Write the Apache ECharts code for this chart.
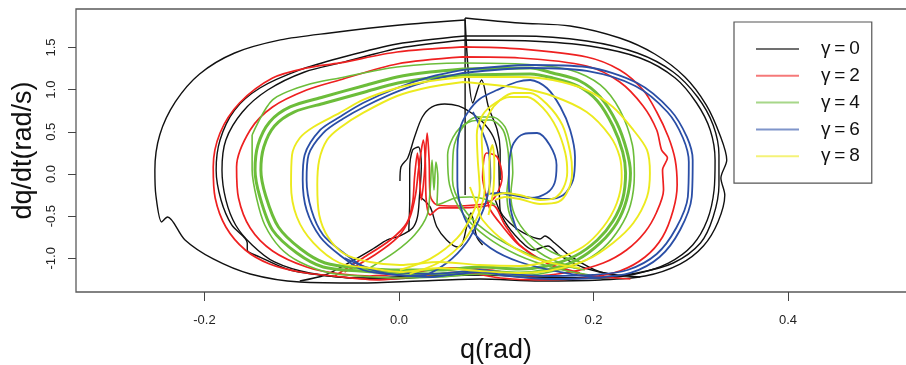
<!DOCTYPE html>
<html><head><meta charset="utf-8">
<script src="https://cdn.jsdelivr.net/npm/echarts@6/dist/echarts.min.js"></script>
<style>html,body{margin:0;padding:0;background:#fff}#c{width:906px;height:365px}</style>
</head><body><div id="c"></div>
<script>
// ---- axis ticks ----
const xTicks = [-0.2, 0.0, 0.2, 0.4];
const yTicks = [-1.0, -0.5, 0.0, 0.5, 1.0, 1.5];
const legendNames = ['γ\u2009=\u20090', 'γ\u2009=\u20092', 'γ\u2009=\u20094', 'γ\u2009=\u20096', 'γ\u2009=\u20098'];

// ---- gamma = 0 (black) trajectory pieces [q, dq/dt] ----
const g0Start = [[0.068,-0.249],[0.068,1.851]];
const g0Loop1 = [[0.068,1.851],[0.124,1.791],[0.176,1.756],[0.227,1.613],[0.263,1.423],[0.294,1.151],[0.316,0.818],[0.330,0.463],[0.337,0.166],[0.331,-0.047],[0.335,-0.249],[0.328,-0.569],[0.313,-0.854],[0.289,-1.068],[0.253,-1.210],[0.207,-1.257],[0.145,-1.269],[0.083,-1.246],[0.022,-1.269],[-0.040,-1.293],[-0.102,-1.281],[-0.153,-1.186],[-0.191,-1.008],[-0.220,-0.783],[-0.238,-0.510],[-0.244,-0.569],[-0.250,-0.249],[-0.251,0.047],[-0.246,0.463],[-0.230,0.854],[-0.205,1.186],[-0.169,1.435],[-0.122,1.590],[-0.071,1.673],[0.001,1.767],[0.068,1.827]];
const g0Loop2 = [[0.068,1.637],[0.124,1.637],[0.193,1.578],[0.245,1.435],[0.282,1.210],[0.307,0.913],[0.323,0.581],[0.329,0.225],[0.329,-0.130],[0.323,-0.510],[0.310,-0.818],[0.282,-1.056],[0.245,-1.174],[0.207,-1.222],[0.145,-1.234],[0.094,-1.198],[0.042,-1.210],[-0.009,-1.246],[-0.061,-1.222],[-0.112,-1.139],[-0.143,-0.985],[-0.156,-0.902],[-0.156,-0.818],[-0.172,-0.605],[-0.183,-0.308],[-0.188,0.047],[-0.184,0.403],[-0.169,0.759],[-0.143,1.020],[-0.102,1.234],[-0.061,1.376],[-0.002,1.542],[0.068,1.637]];
const g0Loop3 = [[0.068,1.590],[0.135,1.578],[0.196,1.518],[0.248,1.376],[0.284,1.139],[0.306,0.842],[0.320,0.522],[0.325,0.166],[0.324,-0.190],[0.317,-0.546],[0.302,-0.842],[0.277,-1.056],[0.243,-1.186],[0.207,-1.234],[0.145,-1.222],[0.083,-1.186],[0.022,-1.210],[-0.040,-1.234],[-0.092,-1.174],[-0.128,-1.044],[-0.151,-0.842],[-0.168,-0.605],[-0.178,-0.308],[-0.182,0.047],[-0.178,0.403],[-0.161,0.735],[-0.135,0.996],[-0.097,1.210],[-0.056,1.329],[0.001,1.495],[0.068,1.590]];
const g0Spike = [[0.068,1.827],[0.076,0.842],[0.085,1.115],[0.092,0.795],[0.101,0.522],[0.104,0.285],[0.104,-0.071]];
const g0Arch = [[0.001,-0.083],[0.002,0.083],[0.009,0.190],[0.016,0.439],[0.024,0.676],[0.034,0.795],[0.047,0.830],[0.061,0.807],[0.073,0.735],[0.086,0.617],[0.097,0.439],[0.102,0.225],[0.103,-0.071],[0.104,-0.427],[0.114,-0.581],[0.128,-0.700],[0.145,-0.771],[0.150,-0.735],[0.160,-0.818],[0.176,-0.973],[0.207,-1.163],[0.248,-1.222]];
const g0Steps = [[0.099,-0.308],[0.109,-0.569],[0.124,-0.783],[0.138,-0.902],[0.153,-0.854],[0.166,-0.973],[0.191,-1.115],[0.227,-1.210]];
const g0Narrow = [[0.010,-0.688],[0.011,-0.308],[0.011,0.047],[0.014,0.285],[0.020,0.320],[0.023,0.107],[0.021,-0.273],[0.019,-0.510],[0.014,-0.641],[0.001,-0.735],[-0.012,-0.783],[-0.027,-0.890],[-0.050,-1.044],[-0.076,-1.198],[-0.102,-1.269]];
const g0Squiggle = [[0.022,-0.273],[0.032,-0.391],[0.039,-0.629],[0.049,-0.783],[0.060,-0.866],[0.065,-0.830],[0.070,-0.605],[0.074,-0.463],[0.080,-0.747],[0.086,-0.842]];

// ---- gamma = 2 (red) ----
const g2Loop1 = [[0.066,1.507],[0.124,1.483],[0.193,1.388],[0.227,1.234],[0.251,0.996],[0.265,0.735],[0.277,0.439],[0.284,0.166],[0.286,-0.130],[0.282,-0.427],[0.271,-0.747],[0.253,-0.985],[0.227,-1.151],[0.191,-1.234],[0.145,-1.257],[0.104,-1.234],[0.063,-1.163],[0.022,-1.210],[-0.020,-1.257],[-0.068,-1.210],[-0.102,-1.163],[-0.133,-1.068],[-0.158,-0.902],[-0.178,-0.629],[-0.189,-0.285],[-0.191,0.083],[-0.184,0.486],[-0.164,0.842],[-0.130,1.139],[-0.095,1.257],[-0.061,1.317],[-0.002,1.447],[0.066,1.507]];
const g2Loop2 = [[0.066,1.388],[0.124,1.376],[0.193,1.281],[0.227,1.091],[0.251,0.807],[0.265,0.522],[0.270,0.285],[0.276,0.190],[0.271,0.047],[0.272,-0.190],[0.265,-0.451],[0.253,-0.688],[0.234,-0.902],[0.210,-1.056],[0.176,-1.163],[0.135,-1.210],[0.094,-1.139],[0.052,-1.115],[0.011,-1.174],[-0.030,-1.210],[-0.061,-1.186],[-0.095,-1.103],[-0.130,-0.913],[-0.153,-0.641],[-0.165,-0.285],[-0.167,0.083],[-0.153,0.522],[-0.130,0.795],[-0.095,0.996],[-0.061,1.115],[-0.002,1.305],[0.066,1.388]];
const g2Center = [[-0.066,-1.210],[-0.037,-0.996],[-0.009,-0.783],[0.008,-0.581],[0.014,-0.344],[0.016,-0.036],[0.019,0.249],[0.021,-0.012],[0.023,-0.308],[0.026,-0.012],[0.029,0.486],[0.031,0.166],[0.032,-0.249],[0.039,-0.368],[0.058,-0.380],[0.078,-0.368],[0.091,-0.344],[0.100,-0.249],[0.106,-0.036],[0.101,0.202],[0.090,0.249],[0.086,-0.036],[0.090,-0.273],[0.094,-0.427],[0.107,-0.629],[0.121,-0.818],[0.135,-0.937],[0.158,-1.091],[0.193,-1.198],[0.238,-1.246]];
const g2Center2 = [[-0.056,-1.163],[-0.025,-0.961],[-0.001,-0.747],[0.011,-0.522],[0.017,-0.249],[0.020,0.047],[0.023,0.285],[0.025,0.403],[0.027,0.166],[0.028,-0.308],[0.032,-0.486],[0.042,-0.403],[0.063,-0.403],[0.083,-0.391],[0.096,-0.368],[0.109,-0.605],[0.124,-0.842],[0.150,-1.044],[0.186,-1.174]];

// ---- gamma = 4 (green) ----
const g4Band1 = [[0.066,1.246],[0.135,1.257],[0.158,1.198],[0.186,1.103],[0.207,0.913],[0.224,0.605],[0.234,0.285],[0.238,0.012],[0.234,-0.308],[0.224,-0.581],[0.207,-0.818],[0.183,-1.020],[0.152,-1.139],[0.124,-1.174],[0.083,-1.151],[0.042,-1.186],[0.001,-1.174],[-0.040,-1.151],[-0.078,-1.103],[-0.105,-0.937],[-0.130,-0.664],[-0.143,-0.273],[-0.148,0.047],[-0.145,0.344],[-0.133,0.617],[-0.112,0.795],[-0.078,0.913],[-0.037,1.044],[-0.002,1.151],[0.032,1.210],[0.066,1.246]];
const g4Band2 = [[0.066,1.174],[0.135,1.186],[0.158,1.139],[0.184,1.044],[0.204,0.866],[0.220,0.569],[0.230,0.261],[0.233,0.012],[0.230,-0.297],[0.220,-0.558],[0.204,-0.783],[0.181,-0.973],[0.152,-1.091],[0.124,-1.127],[0.083,-1.103],[0.042,-1.139],[0.001,-1.139],[-0.040,-1.115],[-0.076,-1.056],[-0.101,-0.890],[-0.124,-0.629],[-0.137,-0.261],[-0.142,0.047],[-0.139,0.320],[-0.128,0.569],[-0.108,0.735],[-0.076,0.842],[-0.035,0.973],[-0.001,1.079],[0.032,1.139],[0.066,1.174]];
const g4Thin = [[-0.151,0.463],[-0.130,0.878],[-0.095,1.056],[-0.061,1.139],[-0.002,1.269],[0.066,1.317],[0.124,1.305],[0.176,1.234],[0.207,1.056],[0.227,0.759],[0.240,0.344],[0.242,-0.012],[0.238,-0.368],[0.227,-0.641],[0.210,-0.878],[0.186,-1.056],[0.155,-1.163],[0.124,-1.210],[0.083,-1.186],[0.042,-1.222],[0.001,-1.234],[-0.040,-1.210],[-0.071,-1.174],[-0.102,-1.044],[-0.122,-0.878],[-0.138,-0.605],[-0.146,-0.308],[-0.151,0.047],[-0.151,0.463]];
const g4Right1 = [[0.191,-1.139],[0.155,-1.044],[0.119,-0.878],[0.088,-0.664],[0.066,-0.403],[0.055,-0.071],[0.056,0.285],[0.065,0.546],[0.080,0.676],[0.096,0.676],[0.109,0.558],[0.115,0.308],[0.117,0.024],[0.115,-0.249],[0.119,-0.486],[0.133,-0.724],[0.157,-0.925],[0.186,-1.044]];
const g4Right2 = [[0.196,-1.198],[0.160,-1.115],[0.122,-0.961],[0.090,-0.747],[0.066,-0.474],[0.052,-0.130],[0.050,0.225],[0.059,0.498],[0.075,0.628],[0.094,0.641],[0.107,0.522],[0.112,0.285],[0.113,0.024],[0.111,-0.225],[0.114,-0.486],[0.127,-0.747],[0.150,-0.973],[0.181,-1.115]];
const g4Spikes = [[-0.030,-1.115],[-0.004,-0.925],[0.016,-0.724],[0.029,-0.486],[0.032,-0.190],[0.034,0.166],[0.036,-0.190],[0.038,0.142],[0.040,-0.047],[0.039,-0.368],[0.045,-0.344],[0.058,-0.285],[0.073,-0.273],[0.088,-0.297],[0.099,-0.368]];

// ---- gamma = 6 (blue) ----
const g6Big1 = [[0.066,1.234],[0.135,1.293],[0.193,1.269],[0.245,1.079],[0.279,0.759],[0.296,0.439],[0.302,0.166],[0.301,-0.273],[0.289,-0.664],[0.268,-0.985],[0.238,-1.174],[0.199,-1.234],[0.155,-1.246],[0.114,-1.210],[0.083,-1.163],[0.052,-1.198],[0.032,-1.222],[-0.002,-1.198],[-0.037,-1.139],[-0.061,-0.961],[-0.081,-0.747],[-0.095,-0.427],[-0.099,-0.071],[-0.097,0.225],[-0.081,0.522],[-0.061,0.676],[-0.037,0.842],[-0.002,1.020],[0.032,1.151],[0.066,1.234]];
const g6Big2 = [[0.066,1.198],[0.135,1.257],[0.193,1.222],[0.243,1.044],[0.276,0.735],[0.292,0.427],[0.298,0.142],[0.297,-0.273],[0.285,-0.641],[0.265,-0.949],[0.235,-1.139],[0.199,-1.198],[0.155,-1.210],[0.114,-1.186],[0.083,-1.139],[0.052,-1.174],[0.032,-1.186],[-0.002,-1.163],[-0.035,-1.103],[-0.058,-0.925],[-0.078,-0.724],[-0.090,-0.427],[-0.095,-0.071],[-0.093,0.225],[-0.078,0.486],[-0.058,0.652],[-0.034,0.807],[0.000,0.985],[0.034,1.115],[0.066,1.198]];
const g6Left = [[-0.056,-0.996],[-0.020,-1.163],[0.022,-1.210],[0.049,-1.056],[0.070,-0.807],[0.083,-0.522],[0.090,-0.308],[0.094,-0.047],[0.092,0.285],[0.084,0.546],[0.076,0.735]];
const g6Right = [[0.207,-1.234],[0.166,-1.163],[0.124,-1.044],[0.094,-0.878],[0.073,-0.641],[0.063,-0.368],[0.060,-0.071],[0.060,0.285],[0.063,0.546],[0.071,0.735],[0.083,0.890],[0.101,0.996],[0.121,1.091],[0.135,1.115],[0.152,1.020],[0.166,0.795],[0.176,0.522],[0.181,0.202],[0.179,-0.071],[0.169,-0.249],[0.152,-0.297],[0.130,-0.273],[0.109,-0.225],[0.096,-0.249]];
const g6Ear = [[0.121,-0.664],[0.115,-0.427],[0.113,-0.071],[0.114,0.202],[0.118,0.368],[0.128,0.474],[0.142,0.486],[0.155,0.344],[0.162,0.107],[0.160,-0.107],[0.152,-0.225],[0.135,-0.285],[0.116,-0.249],[0.101,-0.225],[0.088,-0.249]];

// ---- gamma = 8 (yellow) ----
const g8Big1 = [[0.066,1.151],[0.124,1.151],[0.158,1.115],[0.193,0.996],[0.220,0.795],[0.241,0.522],[0.255,0.285],[0.258,0.012],[0.255,-0.273],[0.241,-0.581],[0.220,-0.818],[0.193,-1.020],[0.158,-1.139],[0.124,-1.174],[0.083,-1.151],[0.042,-1.115],[0.001,-1.163],[-0.030,-1.115],[-0.061,-1.056],[-0.088,-0.818],[-0.105,-0.510],[-0.111,-0.130],[-0.110,0.225],[-0.102,0.427],[-0.088,0.558],[-0.061,0.724],[-0.037,0.878],[-0.002,1.020],[0.032,1.103],[0.066,1.151]];
const g8Big2 = [[0.066,1.091],[0.124,1.020],[0.158,0.925],[0.193,0.735],[0.217,0.451],[0.227,0.202],[0.229,-0.036],[0.224,-0.344],[0.210,-0.629],[0.189,-0.866],[0.158,-1.020],[0.124,-1.091],[0.083,-1.079],[0.042,-1.044],[0.001,-1.079],[-0.030,-1.044],[-0.056,-0.949],[-0.073,-0.747],[-0.082,-0.486],[-0.084,-0.130],[-0.082,0.166],[-0.074,0.403],[-0.061,0.546],[-0.037,0.724],[-0.002,0.925],[0.032,1.032],[0.066,1.091]];
const g8Right1 = [[0.001,-1.139],[0.032,-1.008],[0.060,-0.759],[0.076,-0.463],[0.083,-0.190],[0.081,0.166],[0.080,0.463],[0.086,0.700],[0.099,0.842],[0.114,0.913],[0.132,0.913],[0.148,0.783],[0.162,0.546],[0.171,0.249],[0.173,0.024],[0.169,-0.166],[0.160,-0.285],[0.145,-0.308],[0.124,-0.249],[0.109,-0.225],[0.097,-0.261]];
const g8Right2 = [[0.011,-1.186],[0.042,-1.044],[0.066,-0.807],[0.081,-0.498],[0.088,-0.190],[0.086,0.166],[0.085,0.463],[0.093,0.724],[0.104,0.878],[0.118,0.961],[0.135,0.961],[0.152,0.830],[0.168,0.581],[0.176,0.261],[0.178,0.024],[0.174,-0.190],[0.164,-0.332],[0.145,-0.356],[0.124,-0.297],[0.109,-0.273],[0.099,-0.308]];
const g8Arc = [[0.073,-0.154],[0.080,-0.368],[0.086,-0.546],[0.111,-0.818],[0.145,-1.020],[0.186,-1.115]];
const g8Vert = [[0.092,-0.486],[0.097,-0.190],[0.098,0.166],[0.096,0.344],[0.093,0.166],[0.093,-0.249]];

const groups = [
  {name: legendNames[0], color: '#111111', width: 1.4, pieces: [g0Start, g0Loop1, g0Loop2, g0Loop3, g0Spike, g0Arch, g0Steps, g0Narrow, g0Squiggle]},
  {name: legendNames[1], color: '#ee2020', width: 1.7, pieces: [g2Loop1, g2Loop2, g2Center, g2Center2]},
  {name: legendNames[2], color: '#6cbd3a', width: 1.6, pieces: [g4Band1, g4Band2, g4Thin, g4Right1, g4Right2, g4Spikes]},
  {name: legendNames[3], color: '#2a4ea6', width: 1.8, pieces: [g6Big1, g6Big2, g6Left, g6Right, g6Ear]},
  {name: legendNames[4], color: '#ecea1e', width: 1.9, pieces: [g8Big1, g8Big2, g8Right1, g8Right2, g8Arc, g8Vert]}
];

const series = [];
groups.forEach(g => {
  g.pieces.forEach(p => {
    let w = g.width;
    if (p === g4Band1 || p === g4Band2) w = 3;
    series.push({
      type: 'line', name: g.name, data: p, showSymbol: false, symbol: 'none',
      smooth: 0.3, silent: true, animation: false,
      lineStyle: {color: g.color, width: w},
      itemStyle: {color: g.color}
    });
  });
});

const font = '"Liberation Sans", Arial, Helvetica, sans-serif';
const chart = echarts.init(document.getElementById('c'), null, {renderer: 'canvas'});
chart.setOption({
  animation: false,
  backgroundColor: '#ffffff',
  grid: {left: 76, top: 9, width: 840, height: 283, containLabel: false, outerBoundsMode: 'none',
    show: true, borderColor: '#5a5a5a', borderWidth: 1.3, backgroundColor: 'transparent'},
  xAxis: {
    type: 'value', min: -0.3321, max: 0.5316,
    name: 'q(rad)', nameLocation: 'middle', nameGap: 45,
    nameTextStyle: {fontSize: 27, color: '#111', fontFamily: font},
    axisLine: {show: false, onZero: false},
    splitLine: {show: false},
    axisTick: {show: true, length: 9, customValues: xTicks, lineStyle: {color: '#444', width: 1}},
    axisLabel: {show: true, customValues: xTicks, margin: 22, fontSize: 13, color: '#222', fontFamily: font,
      formatter: v => (v < 0 ? '-' : '') + Math.abs(v).toFixed(1)}
  },
  yAxis: {
    type: 'value', min: -1.400, max: 1.957,
    name: 'dq/dt(rad/s)', nameLocation: 'middle', nameGap: 36,
    nameTextStyle: {fontSize: 27, color: '#111', fontFamily: font},
    axisLine: {show: false, onZero: false},
    splitLine: {show: false},
    axisTick: {show: true, length: 8, customValues: yTicks, lineStyle: {color: '#444', width: 1}},
    axisLabel: {show: true, customValues: yTicks, rotate: 90, margin: 18, fontSize: 13, color: '#222', fontFamily: font,
      formatter: v => (v < 0 ? '-' : '') + Math.abs(v).toFixed(1)}
  },
  legend: {
    show: true, orient: 'vertical', left: 734, top: 22,
    data: legendNames,
    padding: [17, 12, 17, 22], itemGap: 6.8, itemWidth: 43, itemHeight: 2,
    icon: 'rect',
    borderColor: '#555', borderWidth: 1.2, backgroundColor: '#fff',
    itemStyle: {opacity: 0.6},
    textStyle: {fontSize: 19, lineHeight: 20, color: '#111', fontFamily: font, padding: [0, 0, 0, 17]}
  },
  series: series
});
</script>
</body></html>
